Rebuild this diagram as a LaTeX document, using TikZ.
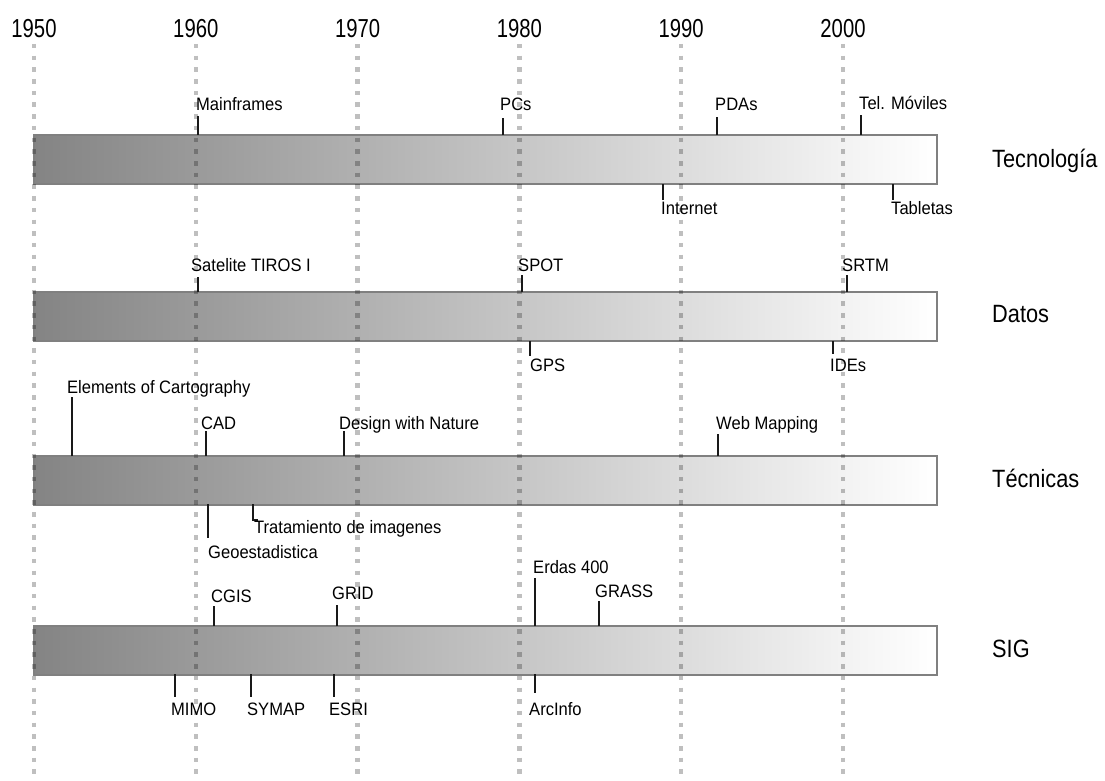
\documentclass[tikz,border=0pt]{standalone}
\usepackage{fontspec}
\setmainfont{Liberation Sans}[FakeStretch=0.92]
\newfontfamily\catfont{Liberation Sans}[FakeStretch=0.87]
\newfontfamily\yearfont{Liberation Sans}[FakeStretch=0.78]
\definecolor{bordergray}{RGB}{128,128,128}
\definecolor{barleft}{RGB}{132,132,132}
\newcommand\evt[7]{%
  \coordinate (#1-a) at (#2,#3);
  \coordinate (#1-b) at (#2,#4);
  \draw[ticker] (#1-a) -- (#1-b);
  \node[lab] (#1) at (#5,#6) {#7};
}
\begin{document}
\begin{tikzpicture}[x=1pt,y=-1pt,
  barbox/.style={draw=bordergray, line width=2.5pt, left color=barleft, right color=white,
    minimum width=903pt, minimum height=49pt, anchor=north west, inner sep=0pt, outer sep=0pt},
  dots/.style={black, opacity=0.25, line width=4.5pt, dash pattern=on 4.5pt off 7.2pt},
  ticker/.style={black!90, line width=1.3pt},
  lab/.style={anchor=base west, inner sep=0pt, font=\fontsize{18}{20}\selectfont},
  cat/.style={anchor=base west, inner sep=0pt, font=\catfont\fontsize{25}{28}\selectfont},
  yr/.style={anchor=base, inner sep=0pt, font=\yearfont\fontsize{26}{28}\selectfont}]
\useasboundingbox (0,0) rectangle (1105,781);
\fill[white] (0,0) rectangle (1105,781);
% bars
\node[barbox] (btec) at (34,135) {};
\node[barbox] (bdat) at (34,292) {};
\node[barbox] (btcn) at (34,456) {};
\node[barbox] (bsig) at (34,626) {};
% years and dotted lines
\foreach \yname/\xx in {1950/34,1960/195.8,1970/357.6,1980/519.4,1990/681.2,2000/843}{
  \node[yr] (y\yname) at (\xx,38) {\yname};
  \coordinate (d\yname-a) at (\xx,44);
  \coordinate (d\yname-b) at (\xx,781);
  \draw[dots] (d\yname-a) -- (d\yname-b);
}
% categories
\node[cat] (ctec) at (992,167) {Tecnología};
\node[cat] (cdat) at (992,322) {Datos};
\node[cat] (ctcn) at (992,487) {Técnicas};
\node[cat] (csig) at (992,657) {SIG};
% Tecnologia
\evt{mainf}{198}{135}{116}{196}{111}{Mainframes}
\evt{pcs}{503}{135}{118}{500}{111}{PCs}
\evt{pdas}{717}{135}{117}{715}{111}{PDAs}
\evt{movil}{861}{135}{115}{859}{110}{Tel. Móviles}
\evt{inet}{663}{184}{200}{661}{214}{Internet}
\evt{tabl}{893}{184}{200}{891}{214}{Tabletas}
% Datos
\evt{tiros}{198}{292}{277}{191}{271}{Satelite TIROS I}
\evt{spot}{522}{292}{275}{518}{271}{SPOT}
\evt{srtm}{847}{292}{275}{842}{271}{SRTM}
\evt{gps}{530}{341}{356}{530}{371}{GPS}
\evt{ides}{833}{341}{354}{830}{371}{IDEs}
% Tecnicas
\evt{elem}{72}{456}{397}{67}{393}{Elements of Cartography}
\evt{cad}{206}{456}{431}{201}{429}{CAD}
\evt{design}{344}{456}{431}{339}{429}{Design with Nature}
\evt{web}{718}{456}{434}{716}{429}{Web Mapping}
\evt{geo}{208}{504}{538}{208}{558}{Geoestadistica}
\coordinate (trat-a) at (253,504);
\coordinate (trat-b) at (253,520);
\coordinate (trat-c) at (258,520);
\draw[ticker] (trat-a) -- (trat-b) -- (trat-c);
\node[lab] (trat) at (254,533) {Tratamiento de imagenes};
% SIG
\evt{cgis}{214}{626}{606}{211}{602}{CGIS}
\evt{grid}{337}{626}{605}{332}{599}{GRID}
\evt{erdas}{535}{626}{578}{533}{573}{Erdas 400}
\evt{grass}{599}{626}{601}{595}{597}{GRASS}
\evt{mimo}{175}{674}{697}{171}{715}{MIMO}
\evt{symap}{251}{674}{697}{247}{715}{SYMAP}
\evt{esri}{334}{674}{697}{329}{715}{ESRI}
\evt{arcinfo}{535}{674}{693}{529}{715}{ArcInfo}
\end{tikzpicture}
\end{document}
